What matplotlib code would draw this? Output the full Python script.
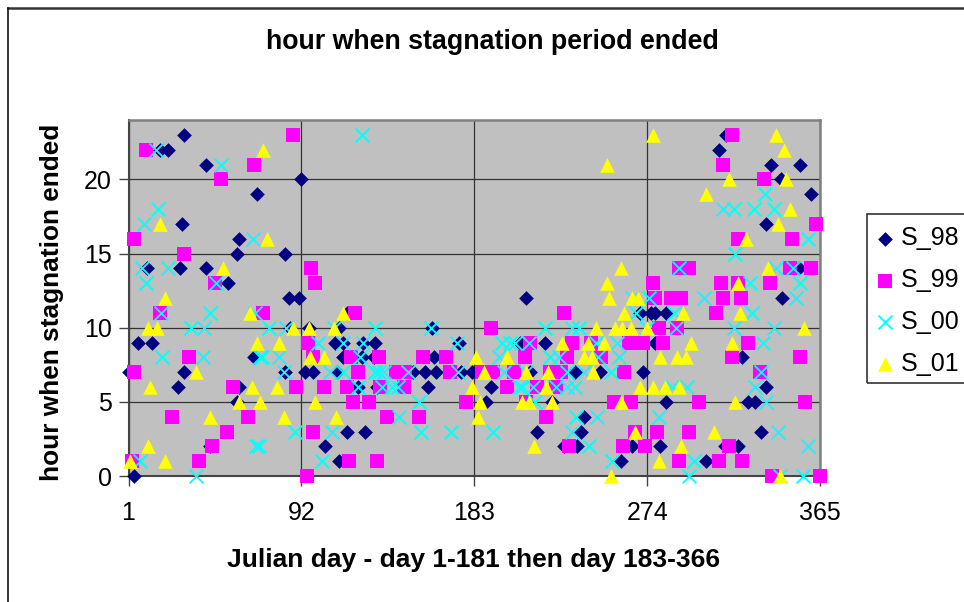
import matplotlib
matplotlib.use("Agg")
import matplotlib.pyplot as plt
from matplotlib.lines import Line2D
from matplotlib.patches import Rectangle

plt.rcParams["font.family"] = ["Liberation Sans", "DejaVu Sans"]

# -- Data: hour -> julian days ---------------------------------
s_98 = {
    23: [30.4, 315.5],
    22: [17.5, 22, 312],
    21: [42, 339, 354.5],
    20: [92, 344.5],
    19: [68.5, 360],
    17: [29, 336.4],
    16: [59],
    15: [58, 83.5],
    14: [10.5, 28, 42, 354],
    13: [53.6],
    12: [85.6, 90.5, 210, 345],
    11: [116, 270, 276, 278, 284],
    10: [86, 96, 111.6, 161],
    9: [6, 13.5, 109.8, 114, 124.7, 131, 175, 207, 220, 278],
    8: [66.8, 114, 124, 130, 162, 324],
    7: [1, 30.4, 83.5, 93.7, 98, 111, 151, 157, 163, 176, 182, 212.6, 236, 249, 272],
    6: [27, 59, 122, 132, 158.5, 192, 336.6],
    5: [58, 189, 224, 284, 327, 331],
    4: [241],
    3: [116, 125.6, 216, 239, 334],
    2: [44, 104.6, 230, 237, 266, 281, 315, 322],
    1: [112, 260.5, 305],
    0: [3.8],
}
s_99 = {
    23: [87.5, 318.5],
    22: [10],
    21: [67, 314],
    20: [49.5, 335.4],
    17: [363],
    16: [3.8, 322, 350],
    15: [30.4],
    14: [97, 291, 296, 349, 360],
    13: [46.5, 99, 277, 313, 322, 338.5],
    12: [278, 286.5, 292, 314, 323.4],
    11: [17.5, 71.7, 120, 230, 310],
    10: [192, 280, 289.7],
    9: [95.4, 212.6, 234.6, 244.3, 264.5, 272, 282.6, 327],
    8: [33, 98, 118, 133, 156, 168, 209.5, 232, 249.6, 318.5, 354.5],
    7: [3.8, 122, 142, 146.7, 170, 187, 193, 204, 223, 228.5, 262, 333.4],
    6: [56, 89, 104, 116, 133.5, 146, 200, 216, 226],
    5: [119, 127.7, 178.4, 210, 256.6, 265.4, 301.4, 357],
    4: [24, 64, 137, 154, 221],
    3: [53, 98, 267.5, 279, 296],
    2: [45, 233, 261.4, 272.8, 317],
    1: [2.6, 38, 117, 132, 291, 312, 323.8],
    0: [95, 339.6, 365],
}
s_00 = {
    23: [124],
    22: [15.4],
    21: [49.5],
    19: [336],
    18: [16.6, 314, 319.6, 330, 340.6],
    17: [9],
    16: [66.4, 358.6],
    15: [320.4],
    14: [8, 22, 291, 342, 350.7],
    13: [10, 47, 328, 354.5],
    12: [266, 275, 304, 352.4],
    11: [18, 44, 67.5, 268, 288, 329],
    10: [34, 41, 74.7, 84, 109, 131, 160, 220, 234.6, 238, 274, 289, 319.5, 340.6],
    9: [101, 114, 124.7, 174, 197.7, 202, 204.7, 212, 247, 258, 335],
    8: [18.8, 40, 70, 71.5, 80, 123, 196, 223, 227.6, 248, 259.2],
    7: [82.6, 107, 114, 131, 133, 135.3, 148, 174.5, 198.6, 210, 232, 241, 255, 334],
    6: [122, 134.4, 139.7, 143, 206.5, 208, 214, 226, 232, 236, 287, 295, 331],
    5: [154, 215, 336.6],
    4: [143.5, 236.7, 247.5, 280],
    3: [88.8, 108, 155, 171, 193, 234.6, 342.8],
    2: [68, 69.5, 243.4, 358.6],
    1: [7.3, 103, 255.7, 298.5],
    0: [36.5, 296, 344, 356],
}
s_01 = {
    23: [277.2, 342],
    22: [71.7, 346],
    21: [252.7],
    20: [317, 347],
    19: [304.8],
    18: [349],
    17: [17.5, 342.8],
    16: [73.8, 326],
    14: [50.6, 260, 337.5],
    13: [252.7, 322],
    12: [20, 254, 266.3, 269],
    11: [65, 114, 262, 293, 323],
    10: [11.4, 15.8, 87.5, 96, 109, 247, 257, 261, 265.7, 274, 356.5],
    9: [68.5, 80, 229, 243, 251.3, 297, 318.5],
    8: [96.6, 104, 184, 200, 241, 245, 281, 289.7, 294.4],
    7: [36.5, 188, 210, 222, 245.5],
    6: [12.2, 66, 79, 182, 221, 270, 277, 283.5, 291],
    5: [59, 70, 99, 186, 208, 212, 224, 260, 320.4],
    4: [44, 83, 110, 185],
    3: [267.5, 309],
    2: [11.4, 214.7, 291.8],
    1: [1.7, 20, 280],
    0: [255, 344],
}

x_ticks = [1, 92, 183, 274, 365]
y_ticks = [0, 5, 10, 15, 20]

W, H = 964, 602


def flatten(series):
    days, hours = [], []
    for hour, day_list in series.items():
        days.extend(day_list)
        hours.extend([hour] * len(day_list))
    return days, hours


fig = plt.figure(figsize=(W / 100, H / 100), dpi=100, facecolor="white")
ax = fig.add_axes([128.5 / W, 1 - 476 / H, (820 - 128.5) / W, (476 - 120) / H])
ax.set_facecolor("#C0C0C0")
ax.set_xlim(1, 365)
ax.set_ylim(0, 24)
ax.set_axisbelow(True)
ax.grid(True, color="#333333", linewidth=0.9)

# -- Series, later ones on top as in the original --------------
ax.scatter(*flatten(s_98), marker="D", s=56, color="#000080", linewidths=0,
           clip_on=False, zorder=3, label="S_98")
ax.scatter(*flatten(s_99), marker="s", s=100, color="#FF00FF", linewidths=0,
           clip_on=False, zorder=4, label="S_99")
ax.scatter(*flatten(s_00), marker="x", s=100, color="#00FFFF", linewidths=1.3,
           clip_on=False, zorder=5, label="S_00")
ax.scatter(*flatten(s_01), marker="^", s=110, color="#FFFF00", linewidths=0,
           clip_on=False, zorder=6, label="S_01")

ax.set_xticks(x_ticks)
ax.set_yticks(y_ticks)
ax.tick_params(axis="x", labelsize=18, length=7, width=1, color="#444444", pad=11)
ax.tick_params(axis="y", labelsize=18, length=7, width=1, color="#444444", pad=5)
for side in ["top", "right"]:
    ax.spines[side].set_color("#808080")
    ax.spines[side].set_linewidth(1.8)
for side in ["left", "bottom"]:
    ax.spines[side].set_color("#444444")
    ax.spines[side].set_linewidth(1.5)

fig.text(492.5 / W, 1 - 42 / H, "hour when stagnation period ended", fontsize=19.3,
         fontweight="bold", ha="center", va="center")
fig.text(473.5 / W, 1 - 560 / H, "Julian day - day 1-181 then day 183-366", fontsize=19,
         fontweight="bold", ha="center", va="center")
fig.text(52 / W, 1 - 302 / H, "hour when stagnation ended", fontsize=18.9,
         fontweight="bold", rotation=90, ha="center", va="center")

# -- Legend box runs off the right edge ------------------------
fig.add_artist(Rectangle((867 / W, 1 - 383 / H), 110 / W, 169 / H, fill=False,
                         edgecolor="#333333", linewidth=1.2,
                         transform=fig.transFigure))
handles, labels = ax.get_legend_handles_labels()
fig.legend(handles, labels, loc="upper left", bbox_to_anchor=(861 / W, 1 - 219 / H),
           frameon=False, fontsize=18, labelspacing=0.71, handletextpad=0.0,
           handlelength=1.3, borderpad=0.3, borderaxespad=0, scatterpoints=1)

# -- Outer chart frame: only top and left show -----------------
fig.add_artist(Line2D([7.5 / W, 1], [1 - 8 / H, 1 - 8 / H], color="#333333",
                      linewidth=1.8, transform=fig.transFigure))
fig.add_artist(Line2D([7.5 / W, 7.5 / W], [0, 1 - 8 / H], color="#111111",
                      linewidth=1.2, transform=fig.transFigure))

fig.savefig("out.png", dpi=100)
